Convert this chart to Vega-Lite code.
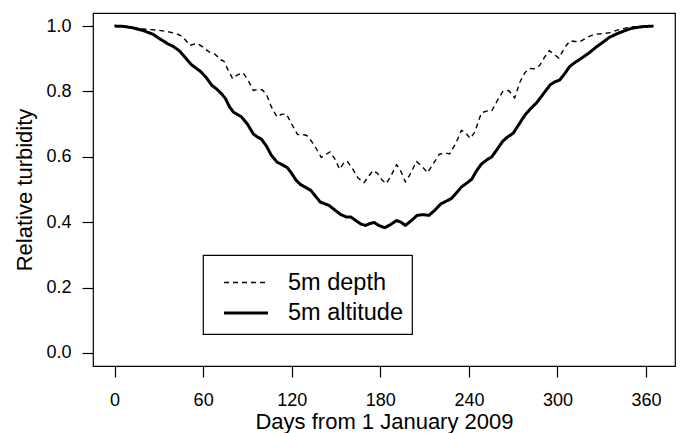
{
  "$schema": "https://vega.github.io/schema/vega-lite/v6.json",
  "width": 582,
  "height": 353,
  "autosize": {"type": "none"},
  "padding": {"left": 93, "top": 13, "right": 7, "bottom": 67},
  "background": "white",
  "config": {
    "view": {"stroke": "black", "strokeWidth": 1.2},
    "font": "Liberation Sans",
    "axis": {
      "grid": false,
      "domain": false,
      "tickColor": "black",
      "tickSize": 11,
      "tickWidth": 1.2,
      "labelColor": "black",
      "labelFont": "Liberation Sans",
      "labelFontSize": 18,
      "titleColor": "black",
      "titleFont": "Liberation Sans",
      "titleFontSize": 22,
      "titleFontWeight": "normal"
    },
    "legend": {
      "strokeColor": "black",
      "strokeWidth": 1.2,
      "fillColor": "white",
      "labelFont": "Liberation Sans",
      "labelFontSize": 23.5,
      "labelColor": "black",
      "symbolStrokeColor": "black",
      "symbolFillColor": "transparent",
      "symbolType": "M-1.257,0H1.257"
    }
  },
  "data": {
    "values": [
      {"series": "5m depth", "day": 0, "val": 1.0},
      {"series": "5m depth", "day": 8, "val": 0.998},
      {"series": "5m depth", "day": 17, "val": 0.992},
      {"series": "5m depth", "day": 25, "val": 0.989},
      {"series": "5m depth", "day": 30, "val": 0.987},
      {"series": "5m depth", "day": 36, "val": 0.983},
      {"series": "5m depth", "day": 42, "val": 0.977},
      {"series": "5m depth", "day": 46, "val": 0.968},
      {"series": "5m depth", "day": 49, "val": 0.952},
      {"series": "5m depth", "day": 51, "val": 0.941},
      {"series": "5m depth", "day": 54, "val": 0.945},
      {"series": "5m depth", "day": 56.5, "val": 0.946},
      {"series": "5m depth", "day": 60, "val": 0.935},
      {"series": "5m depth", "day": 64, "val": 0.921},
      {"series": "5m depth", "day": 68, "val": 0.914},
      {"series": "5m depth", "day": 72, "val": 0.897},
      {"series": "5m depth", "day": 74, "val": 0.893},
      {"series": "5m depth", "day": 77, "val": 0.865},
      {"series": "5m depth", "day": 80, "val": 0.839},
      {"series": "5m depth", "day": 83, "val": 0.85},
      {"series": "5m depth", "day": 87, "val": 0.857},
      {"series": "5m depth", "day": 90, "val": 0.838},
      {"series": "5m depth", "day": 94, "val": 0.803},
      {"series": "5m depth", "day": 97, "val": 0.806},
      {"series": "5m depth", "day": 100, "val": 0.805},
      {"series": "5m depth", "day": 103, "val": 0.79},
      {"series": "5m depth", "day": 106, "val": 0.755},
      {"series": "5m depth", "day": 110, "val": 0.722},
      {"series": "5m depth", "day": 113, "val": 0.73},
      {"series": "5m depth", "day": 116.4, "val": 0.731},
      {"series": "5m depth", "day": 120, "val": 0.7},
      {"series": "5m depth", "day": 124, "val": 0.668},
      {"series": "5m depth", "day": 127, "val": 0.668},
      {"series": "5m depth", "day": 130, "val": 0.666},
      {"series": "5m depth", "day": 133, "val": 0.65},
      {"series": "5m depth", "day": 136, "val": 0.63},
      {"series": "5m depth", "day": 140, "val": 0.598},
      {"series": "5m depth", "day": 143, "val": 0.607},
      {"series": "5m depth", "day": 146, "val": 0.615},
      {"series": "5m depth", "day": 149, "val": 0.595},
      {"series": "5m depth", "day": 152.5, "val": 0.562},
      {"series": "5m depth", "day": 155, "val": 0.58},
      {"series": "5m depth", "day": 157.5, "val": 0.587},
      {"series": "5m depth", "day": 161, "val": 0.565},
      {"series": "5m depth", "day": 165, "val": 0.535},
      {"series": "5m depth", "day": 169, "val": 0.521},
      {"series": "5m depth", "day": 172, "val": 0.54},
      {"series": "5m depth", "day": 175, "val": 0.558},
      {"series": "5m depth", "day": 178, "val": 0.55},
      {"series": "5m depth", "day": 181, "val": 0.53},
      {"series": "5m depth", "day": 184, "val": 0.518},
      {"series": "5m depth", "day": 187, "val": 0.54},
      {"series": "5m depth", "day": 191, "val": 0.576},
      {"series": "5m depth", "day": 194, "val": 0.555},
      {"series": "5m depth", "day": 197, "val": 0.523},
      {"series": "5m depth", "day": 200, "val": 0.545},
      {"series": "5m depth", "day": 204.5, "val": 0.586},
      {"series": "5m depth", "day": 208, "val": 0.572},
      {"series": "5m depth", "day": 212, "val": 0.551},
      {"series": "5m depth", "day": 216, "val": 0.58},
      {"series": "5m depth", "day": 220, "val": 0.608},
      {"series": "5m depth", "day": 224, "val": 0.612},
      {"series": "5m depth", "day": 227, "val": 0.609},
      {"series": "5m depth", "day": 231, "val": 0.64},
      {"series": "5m depth", "day": 235, "val": 0.681},
      {"series": "5m depth", "day": 238, "val": 0.672},
      {"series": "5m depth", "day": 241, "val": 0.656},
      {"series": "5m depth", "day": 244, "val": 0.676},
      {"series": "5m depth", "day": 248.5, "val": 0.735},
      {"series": "5m depth", "day": 252, "val": 0.74},
      {"series": "5m depth", "day": 255.4, "val": 0.74},
      {"series": "5m depth", "day": 259, "val": 0.77},
      {"series": "5m depth", "day": 263, "val": 0.8},
      {"series": "5m depth", "day": 267, "val": 0.803},
      {"series": "5m depth", "day": 271, "val": 0.78},
      {"series": "5m depth", "day": 274.6, "val": 0.829},
      {"series": "5m depth", "day": 278, "val": 0.858},
      {"series": "5m depth", "day": 281.4, "val": 0.87},
      {"series": "5m depth", "day": 285, "val": 0.869},
      {"series": "5m depth", "day": 288, "val": 0.88},
      {"series": "5m depth", "day": 291, "val": 0.903},
      {"series": "5m depth", "day": 294.5, "val": 0.925},
      {"series": "5m depth", "day": 297, "val": 0.915},
      {"series": "5m depth", "day": 301, "val": 0.902},
      {"series": "5m depth", "day": 305, "val": 0.935},
      {"series": "5m depth", "day": 308.5, "val": 0.955},
      {"series": "5m depth", "day": 312, "val": 0.953},
      {"series": "5m depth", "day": 315, "val": 0.952},
      {"series": "5m depth", "day": 320, "val": 0.965},
      {"series": "5m depth", "day": 325, "val": 0.975},
      {"series": "5m depth", "day": 331, "val": 0.977},
      {"series": "5m depth", "day": 336, "val": 0.98},
      {"series": "5m depth", "day": 340, "val": 0.987},
      {"series": "5m depth", "day": 345, "val": 0.993},
      {"series": "5m depth", "day": 350, "val": 0.997},
      {"series": "5m depth", "day": 357, "val": 0.999},
      {"series": "5m depth", "day": 365, "val": 1.0},
      {"series": "5m altitude", "day": 0, "val": 1.0},
      {"series": "5m altitude", "day": 6, "val": 0.999},
      {"series": "5m altitude", "day": 12, "val": 0.995},
      {"series": "5m altitude", "day": 19, "val": 0.987},
      {"series": "5m altitude", "day": 26, "val": 0.975},
      {"series": "5m altitude", "day": 31, "val": 0.96},
      {"series": "5m altitude", "day": 36, "val": 0.946},
      {"series": "5m altitude", "day": 40, "val": 0.937},
      {"series": "5m altitude", "day": 44, "val": 0.924},
      {"series": "5m altitude", "day": 48, "val": 0.903},
      {"series": "5m altitude", "day": 52, "val": 0.882},
      {"series": "5m altitude", "day": 55, "val": 0.872},
      {"series": "5m altitude", "day": 58, "val": 0.862},
      {"series": "5m altitude", "day": 62, "val": 0.843},
      {"series": "5m altitude", "day": 66, "val": 0.818},
      {"series": "5m altitude", "day": 69, "val": 0.808},
      {"series": "5m altitude", "day": 72, "val": 0.795},
      {"series": "5m altitude", "day": 75, "val": 0.779},
      {"series": "5m altitude", "day": 78, "val": 0.752},
      {"series": "5m altitude", "day": 80.5, "val": 0.737},
      {"series": "5m altitude", "day": 83, "val": 0.73},
      {"series": "5m altitude", "day": 86, "val": 0.722},
      {"series": "5m altitude", "day": 90, "val": 0.7},
      {"series": "5m altitude", "day": 94, "val": 0.67},
      {"series": "5m altitude", "day": 97, "val": 0.66},
      {"series": "5m altitude", "day": 99.5, "val": 0.654},
      {"series": "5m altitude", "day": 103, "val": 0.632},
      {"series": "5m altitude", "day": 106, "val": 0.606},
      {"series": "5m altitude", "day": 110, "val": 0.584},
      {"series": "5m altitude", "day": 113, "val": 0.577},
      {"series": "5m altitude", "day": 117, "val": 0.567},
      {"series": "5m altitude", "day": 120, "val": 0.549},
      {"series": "5m altitude", "day": 123, "val": 0.528},
      {"series": "5m altitude", "day": 126, "val": 0.515},
      {"series": "5m altitude", "day": 130, "val": 0.505},
      {"series": "5m altitude", "day": 133, "val": 0.497},
      {"series": "5m altitude", "day": 136, "val": 0.48},
      {"series": "5m altitude", "day": 139.5, "val": 0.461},
      {"series": "5m altitude", "day": 142, "val": 0.457},
      {"series": "5m altitude", "day": 145, "val": 0.452},
      {"series": "5m altitude", "day": 149, "val": 0.438},
      {"series": "5m altitude", "day": 153, "val": 0.424},
      {"series": "5m altitude", "day": 157, "val": 0.416},
      {"series": "5m altitude", "day": 160, "val": 0.416},
      {"series": "5m altitude", "day": 164, "val": 0.403},
      {"series": "5m altitude", "day": 167, "val": 0.394},
      {"series": "5m altitude", "day": 170, "val": 0.39},
      {"series": "5m altitude", "day": 173, "val": 0.396},
      {"series": "5m altitude", "day": 176, "val": 0.399},
      {"series": "5m altitude", "day": 179, "val": 0.39},
      {"series": "5m altitude", "day": 183, "val": 0.383},
      {"series": "5m altitude", "day": 187, "val": 0.393},
      {"series": "5m altitude", "day": 191, "val": 0.405},
      {"series": "5m altitude", "day": 194, "val": 0.4},
      {"series": "5m altitude", "day": 197, "val": 0.39},
      {"series": "5m altitude", "day": 201, "val": 0.405},
      {"series": "5m altitude", "day": 205, "val": 0.421},
      {"series": "5m altitude", "day": 209, "val": 0.423},
      {"series": "5m altitude", "day": 213, "val": 0.421},
      {"series": "5m altitude", "day": 217, "val": 0.437},
      {"series": "5m altitude", "day": 221, "val": 0.456},
      {"series": "5m altitude", "day": 225, "val": 0.465},
      {"series": "5m altitude", "day": 228, "val": 0.472},
      {"series": "5m altitude", "day": 232, "val": 0.492},
      {"series": "5m altitude", "day": 235, "val": 0.508},
      {"series": "5m altitude", "day": 239, "val": 0.521},
      {"series": "5m altitude", "day": 242, "val": 0.532},
      {"series": "5m altitude", "day": 245, "val": 0.556},
      {"series": "5m altitude", "day": 248.5, "val": 0.578},
      {"series": "5m altitude", "day": 252, "val": 0.59},
      {"series": "5m altitude", "day": 255.5, "val": 0.6},
      {"series": "5m altitude", "day": 259, "val": 0.622},
      {"series": "5m altitude", "day": 263, "val": 0.648},
      {"series": "5m altitude", "day": 266, "val": 0.66},
      {"series": "5m altitude", "day": 270, "val": 0.672},
      {"series": "5m altitude", "day": 274, "val": 0.7},
      {"series": "5m altitude", "day": 278, "val": 0.728},
      {"series": "5m altitude", "day": 282, "val": 0.748},
      {"series": "5m altitude", "day": 286, "val": 0.766},
      {"series": "5m altitude", "day": 290, "val": 0.79},
      {"series": "5m altitude", "day": 295, "val": 0.82},
      {"series": "5m altitude", "day": 298, "val": 0.829},
      {"series": "5m altitude", "day": 301.5, "val": 0.835},
      {"series": "5m altitude", "day": 305, "val": 0.855},
      {"series": "5m altitude", "day": 308, "val": 0.875},
      {"series": "5m altitude", "day": 311, "val": 0.886},
      {"series": "5m altitude", "day": 314, "val": 0.895},
      {"series": "5m altitude", "day": 318, "val": 0.907},
      {"series": "5m altitude", "day": 322, "val": 0.92},
      {"series": "5m altitude", "day": 326, "val": 0.935},
      {"series": "5m altitude", "day": 330, "val": 0.948},
      {"series": "5m altitude", "day": 335, "val": 0.965},
      {"series": "5m altitude", "day": 340, "val": 0.976},
      {"series": "5m altitude", "day": 345, "val": 0.985},
      {"series": "5m altitude", "day": 350, "val": 0.993},
      {"series": "5m altitude", "day": 357, "val": 0.998},
      {"series": "5m altitude", "day": 365, "val": 1.0}
    ]
  },
  "mark": {"type": "line", "color": "black", "strokeCap": "butt", "strokeJoin": "round"},
  "encoding": {
    "x": {
      "field": "day",
      "type": "quantitative",
      "scale": {"domain": [-14.6, 379.6], "nice": false, "zero": false},
      "axis": {
        "values": [0, 60, 120, 180, 240, 300, 360],
        "title": "Days from 1 January 2009",
        "labelPadding": 14,
        "titlePadding": 2,
        "labelFlush": false,
        "labelOverlap": false
      }
    },
    "y": {
      "field": "val",
      "type": "quantitative",
      "scale": {"domain": [-0.04, 1.04], "nice": false, "zero": false},
      "axis": {
        "values": [0, 0.2, 0.4, 0.6, 0.8, 1.0],
        "format": ".1f",
        "title": "Relative turbidity",
        "labelPadding": 11,
        "titlePadding": 9,
        "labelFlush": false,
        "labelOverlap": false
      }
    },
    "strokeDash": {
      "field": "series",
      "type": "nominal",
      "scale": {"domain": ["5m depth", "5m altitude"], "range": [[5, 4], [1, 0]]},
      "legend": {
        "title": null,
        "orient": "none",
        "legendX": 110,
        "legendY": 242,
        "padding": 9,
        "symbolSize": 1225,
        "symbolOffset": 15,
        "labelOffset": 23,
        "rowPadding": -9.6
      }
    },
    "strokeWidth": {
      "field": "series",
      "type": "nominal",
      "scale": {"domain": ["5m depth", "5m altitude"], "range": [1.4, 3]},
      "legend": {
        "title": null,
        "orient": "none",
        "legendX": 110,
        "legendY": 242,
        "padding": 9,
        "symbolSize": 1225,
        "symbolOffset": 15,
        "labelOffset": 23,
        "rowPadding": -9.6
      }
    }
  }
}
